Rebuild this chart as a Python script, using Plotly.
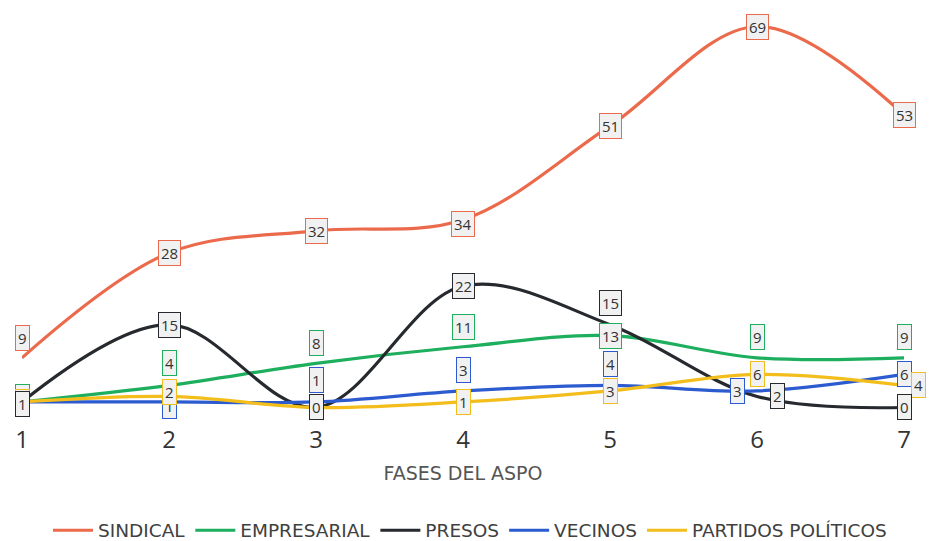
import plotly.graph_objects as go

fases = [1, 2, 3, 4, 5, 6, 7]
tick_labels = ["1", "2", "3", "4", "5", "6", "7"]

sindical = [9, 28, 32, 34, 51, 69, 53]
empresarial = [1, 4, 8, 11, 13, 9, 9]
presos = [1, 15, 0, 22, 15, 2, 0]
vecinos = [1, 1, 1, 3, 4, 3, 6]
partidos = [1, 2, 0, 1, 3, 6, 4]

series_names = ["SINDICAL", "EMPRESARIAL", "PRESOS", "VECINOS", "PARTIDOS POLÍTICOS"]
series_values = [sindical, empresarial, presos, vecinos, partidos]
colors = ["#EC6A4C", "#1DAE5E", "#262A2E", "#2C5BCF", "#F3BD1B"]

# label offsets (px) per series / point: (xshift, yshift)
label_offsets = [
    [(0, 20), (0, 0), (0, 0), (0, -4), (0, 0), (0, 0), (0, 0)],
    [(0, 5), (0, 22), (0, 20), (0, 20), (0, 0), (0, 21), (0, 21)],
    [(0, -2), (0, 0), (0, 0), (0, 0), (0, 22), (20, 0), (0, 0)],
    [(0, 0), (0, -4), (0, 22), (0, 21), (0, 21), (-20, 0), (0, 0)],
    [(0, 0), (0, 4), (0, 0), (0, 0), (0, 0), (0, 0), (14, 0)],
]
draw_order = [0, 1, 3, 4, 2]

fig = go.Figure()
for name, vals, col in zip(series_names, series_values, colors):
    fig.add_trace(go.Scatter(
        x=fases, y=vals, name=name, mode="lines",
        line=dict(color=col, width=3.2, shape="spline", smoothing=1.0),
        hoverinfo="skip",
    ))

annotations = []
for si in draw_order:
    vals = series_values[si]
    for i, v in enumerate(vals):
        dx, dy = label_offsets[si][i]
        annotations.append(dict(
            x=fases[i], y=v, xref="x", yref="y", text=str(v), showarrow=False,
            xshift=dx, yshift=dy,
            font=dict(family="Open Sans", size=15, color="#333333"),
            bgcolor="#F1F1F1", bordercolor=colors[si], borderwidth=1, borderpad=2,
        ))

fig.update_layout(
    width=940, height=541,
    margin=dict(l=22, r=36, t=21, b=128),
    paper_bgcolor="white", plot_bgcolor="white",
    showlegend=True,
    legend=dict(orientation="h", x=0.5, xref="container", xanchor="center",
                y=0.019, yref="container", yanchor="middle",
                font=dict(family="DejaVu Sans", size=18.5, color="#404040"),
                itemwidth=40, traceorder="normal"),
    annotations=annotations,
    xaxis=dict(range=[1, 7], tickvals=fases, ticktext=tick_labels,
               showgrid=False, zeroline=False, showline=False, automargin=False,
               tickfont=dict(family="Open Sans", size=24, color="#333333"),
               ticklabelstandoff=10,
               title=dict(text="FASES DEL ASPO", standoff=12,
                          font=dict(family="DejaVu Sans", size=19, color="#555555"))),
    yaxis=dict(range=[-1, 70], visible=False),
)

fig.write_html("out.html")
